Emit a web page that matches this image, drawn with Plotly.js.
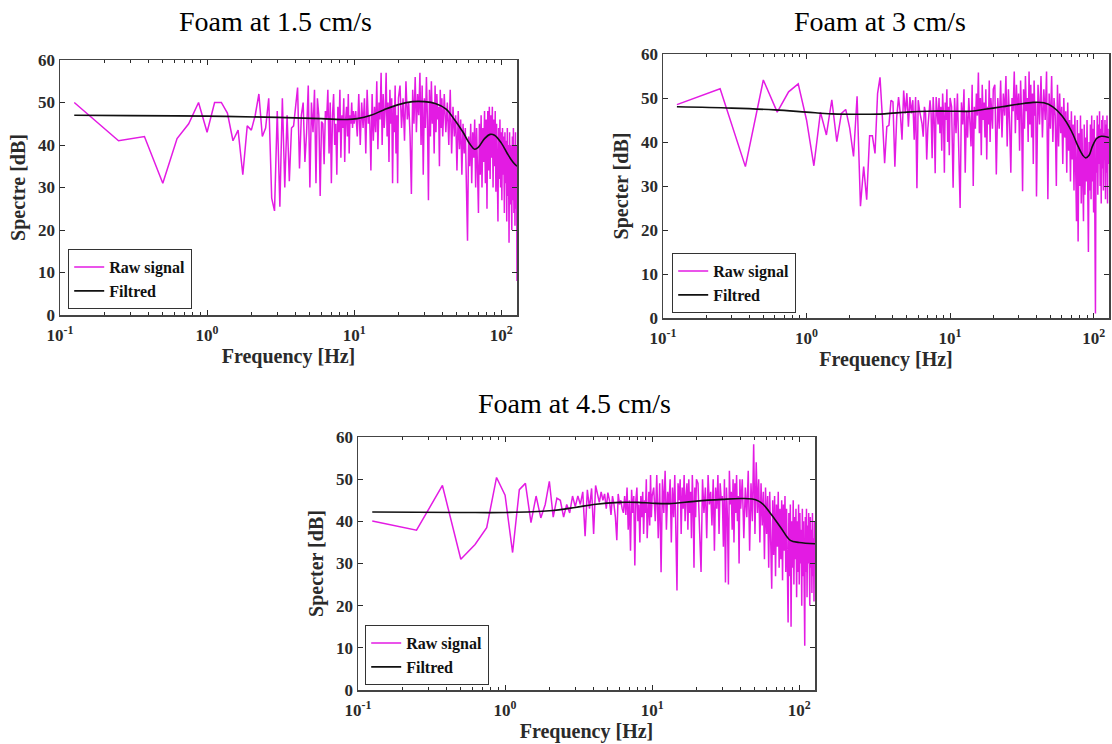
<!DOCTYPE html>
<html>
<head>
<meta charset="utf-8">
<script src="https://cdn.plot.ly/plotly-3.0.1.min.js"></script>
<style>
html,body{margin:0;padding:0;background:#ffffff;}
#chart{width:1112px;height:744px;}
</style>
</head>
<body>
<div id="chart"></div>
<script>
// ---------------- DATA ----------------
// FFT bin grid (Hz): segments (start, step)
const binStarts = [0.125, 10.25, 20.5, 41];
const binSteps  = [0.125, 0.25, 0.5, 1];

const panelTitles = ["Foam at 1.5 cm/s", "Foam at 3 cm/s", "Foam at 4.5 cm/s"];
const yTitles = ["Spectre [dB]", "Specter [dB]", "Specter [dB]"];
const xTitle = "Frequency [Hz]";
const seriesNames = ["Raw signal", "Filtred"];
const xTickVals = [0.1, 1, 10, 100];
const xTickText = ["10<sup>-1</sup>", "10<sup>0</sup>", "10<sup>1</sup>", "10<sup>2</sup>"];

// ---- Panel 1 : Foam at 1.5 cm/s ----
const raw1_a = [50,41,42,31,41.5,45,50,43,50,50, 47.5,41,43.5,33,44.5,43.5,47,52,42,44,
  51,27.5,24.5,48,25.5,51,30,47,31.5,44, 44.5,49.5,53.5,34.5,47,50,36,43,54,30,
  50,43,53,31,51,47,28,45.5,45,35.5, 48,46,53,38,50,31,47,52,40,45,
  33,49,43,53,37,47,44,51,36,46, 49,42,52,38,47,45,50,44,48,45];
const raw1_b = [48,42,52,40,50,44,51,38,53,45, 47,34,52,41,49,43,55,39,50,46,
  57,40,52,44,48,57,42,50,36,53, 45,51,31,49,43,54,38,47,31,51];
const raw1_c = [54,44,51,41,55,46,50,42,28.5,53, 45,56,43,52,47,57,40,54,33,51,
  44,56,46,27,53,42,55,45,50,38, 54,43,52,46,49,35,53,44,51,42];
const raw1_d = [52,43,50,40,53,38,49,42,47,34, 48,39,46,33,45,38,44,30,17.5,42,
  35,45,31,43,37,46,30,44,35,24, 45,33,47,30,44,36,48,31,46,25,
  48,34,49,32,47,37,49,30,46,35, 48,29,45,34,22,44,32,46,30,43,
  27,44,33,42,24,43,31,41,22,44, 28,40,17,43,26,40,30,20,42,27,
  44,24,40,21,43,25,40,8];
const filt1_f = [0.125,0.3,1,3,6,9,10.5,13,16,20,25,30,36,42,48,55,61,66,70,77,84,90,100,110,120,128];
const filt1_v = [47,46.9,46.8,46.5,46.2,46,46.2,47,48.3,49.5,50.2,50.2,49.7,48.5,46,43,40.3,39,39.5,41.5,42.5,42.3,40.5,38,36,35];

// ---- Panel 2 : Foam at 3 cm/s ----
const raw2_a = [48.5,52.1,34.4,54.1,46.8,51.4,53.2,45,34.6,46.8, 41.6,49.6,40.1,46.5,47.4,43.1,36.7,50.4,25.4,34.4,
  26.9,41.4,41.4,37.4,51,54.7,45.7,35.2,43.5,43.8, 49.5,49.1,34.4,45.7,50.2,46.5,40.5,51.7,46.5,51.1,
  43.5,50.2,46.5,49.5,40.5,50.2,29.5,49.5,47.2,45.7, 44.2,41.2,48,46.5,36,43.1,46.1,49.5,46.5,36.3,
  50.2,45,32.9,50.2,47,44,50,42,48,38, 51,46,33,49,45,52,40,48,37,50];
const raw2_b = [48,29.6,50,42,51,38,25,49,44,52, 33,47,41,50,45,39,53,30,48,43,
  51,46,55.8,42,50,37,53,45,49,41, 52,36,48,44,54,40,50,47,43,52];
const raw2_c = [53,32.6,50,43,54,41,51,46,55,39, 52,44,33,50,47,56,42,53,45,51,
  38,54,46,28.8,52,43,55,47,50,40, 56,44,53,41,51,35,54,46,49,27.6];
const raw2_d = [53,44,55,41,52,45,56,27,51,43, 55,40,50,46,30,53,39,51,42,48,
  35,50,41,47,33,49,38,45,31,47, 36,44,29,46,34,22,45,17.4,42,30,
  46,26,43,33,22,44,28,41,31,45, 24,15,40,29,44,27,46,31,43,24,
  45,30,1,41,33,46,28,44,35,47, 30,43,26,45,34,46,29,42,36,45,
  27,44,33,46,26,43,35,41];
const filt2_f = [0.125,0.3,0.6,1,1.5,2.5,3.5,5,7,10,14,18,23,30,38,45,52,60,70,78,84,88,93,98,105,113,128];
const filt2_v = [48,47.7,47.3,46.8,46.4,46.3,46.4,46.8,47,47,47,47.5,48,48.6,49,48.9,48,46,42.5,39,37,36.4,37,39,40.8,41.3,41];

// ---- Panel 3 : Foam at 4.5 cm/s ----
const raw3_a = [40.1,37.9,48.5,31,34.5,38.5,50.4,46.2,32.6,47.5, 49,39.7,46,40.8,44,49.5,41,45.5,45,41,
  44,42,46,43.5,46,44,47,36.5,47.5,43, 47.8,37,48.5,46,44.5,47,45,46.5,43,46.8,
  45,41.5,46,44,41,35.5,46.5,44,45,43, 42,46,41.5,48,38,45,33,47.5,42,46,
  29.5,45,48,40,44,35,46,41,47,37, 45,42,50,36,44,47,39,51,41,46];
const raw3_b = [48,40,51,36,49,27.9,50,42,52,38, 47,44,50,35,48,41,51,39,23.6,49,
  45,50,37,48,43,51,40,46,49,38, 50,42,47,36,51,44,29,48,41,50];
const raw3_c = [49,38,28,50,42,48,36,51,44,47, 39,50,33,48,43,51,37,49,45,46,
  34,50,25.5,48,41,25,52,44,47,38, 50,35,49,42,51,40,46,30,50,43];
const raw3_d = [50,36,48,41,52,33,49,40,58.3,37, 54,42,50,35,49,39,47,31,48,37,
  46,29,47,35,24,45,32,46,27,44, 34,47,29,43,31,45,26,44,33,46,
  28,43,30,16,42,27,44,15,40,29, 45,25,41,31,43,22,40,28,44,25,
  42,30,38,20,43,27,40,24,10.5,41, 28,43,22,39,30,42,25,20,41,29,
  38,23,42,27,36,21,40,30];
const filt3_f = [0.125,0.5,1,2,3,4,6,8,10,13,20,30,40,48,53,57,65,75,87,100,128];
const filt3_v = [42.2,42.1,42.1,42.5,43.3,44,44.5,44.5,44.3,44.2,44.8,45.2,45.4,45.3,44.8,44,41.5,38.5,35.5,35,34.7];

// ---------------- BUILD ----------------
function freqGrid(segs) {
  const out = [];
  segs.forEach((seg, i) => {
    for (let k = 0; k < seg.length; k++) {
      out.push(Math.round((binStarts[i] + k * binSteps[i]) * 1000) / 1000);
    }
  });
  return out;
}
function joinVals(segs) { return [].concat(...segs); }

const rawSets = [
  [raw1_a, raw1_b, raw1_c, raw1_d],
  [raw2_a, raw2_b, raw2_c, raw2_d],
  [raw3_a, raw3_b, raw3_c, raw3_d]
];
const filtSets = [[filt1_f, filt1_v], [filt2_f, filt2_v], [filt3_f, filt3_v]];

const SERIF = "Liberation Serif, Times New Roman, serif";
const INK = "#2a2a2a";
const RAW_COLOR = "#e31be3";
const FILT_COLOR = "#111111";

// panel frames in pixels [x0, x1, yTop, yBottom]
const W = 1112, H = 744;
const frames = [
  [60, 517, 60, 315],
  [663, 1109, 54, 318],
  [358, 815, 437, 690]
];
const titlePos = [[275, 22], [880, 22], [574, 403]];
const legendPos = [[68, 309], [672, 313], [365, 685]];

const traces = [];
const layout = {
  width: W, height: H,
  margin: {l: 0, r: 0, t: 0, b: 0},
  paper_bgcolor: "#ffffff",
  plot_bgcolor: "#ffffff",
  font: {family: SERIF, color: INK, size: 16},
  annotations: []
};

frames.forEach((fr, i) => {
  const n = i === 0 ? "" : String(i + 1);
  const xa = "x" + n, ya = "y" + n;
  const legName = "legend" + n;
  traces.push({
    type: "scatter", mode: "lines",
    x: freqGrid(rawSets[i]), y: joinVals(rawSets[i]),
    xaxis: xa, yaxis: ya, name: seriesNames[0], legend: legName,
    line: {color: RAW_COLOR, width: 1.5}
  });
  traces.push({
    type: "scatter", mode: "lines",
    x: filtSets[i][0], y: filtSets[i][1],
    xaxis: xa, yaxis: ya, name: seriesNames[1], legend: legName,
    line: {color: FILT_COLOR, width: 1.6, shape: "spline", smoothing: 1}
  });

  layout["xaxis" + n] = {
    type: "log",
    domain: [fr[0] / W, fr[1] / W],
    anchor: ya,
    range: [-1, Math.log10(128)],
    tickmode: "array", tickvals: xTickVals, ticktext: xTickText,
    ticks: "inside", ticklen: 5, tickwidth: 1, tickcolor: INK,
    ticklabelstandoff: 4,
    minor: {ticks: "inside", ticklen: 3, tickwidth: 1, tickcolor: INK, dtick: "D1", showgrid: false},
    showline: true, linecolor: "#444", linewidth: 1.5, mirror: "ticks",
    showgrid: false, zeroline: false,
    tickfont: {family: SERIF, size: 17, color: INK, weight: "bold"},
    title: {text: xTitle, standoff: 4, font: {family: SERIF, size: 20, color: INK, weight: "bold"}},
    automargin: false
  };
  layout["yaxis" + n] = {
    domain: [1 - fr[3] / H, 1 - fr[2] / H],
    anchor: xa,
    range: [0, 60], tick0: 0, dtick: 10,
    ticks: "inside", ticklen: 5, tickwidth: 1, tickcolor: INK,
    showline: true, linecolor: "#444", linewidth: 1.5, mirror: "ticks",
    showgrid: false, zeroline: false,
    tickfont: {family: SERIF, size: 17, color: INK, weight: "bold"},
    title: {text: yTitles[i], standoff: 7, font: {family: SERIF, size: 20, color: INK, weight: "bold"}},
    automargin: false
  };
  layout[legName] = {
    x: legendPos[i][0] / W, y: 1 - legendPos[i][1] / H,
    xanchor: "left", yanchor: "bottom",
    bgcolor: "#ffffff", bordercolor: "#333", borderwidth: 1.2,
    font: {family: SERIF, size: 16, color: "#111", weight: "bold"},
    tracegroupgap: 0, itemwidth: 30
  };
  layout.annotations.push({
    text: panelTitles[i], xref: "paper", yref: "paper",
    x: titlePos[i][0] / W, y: 1 - titlePos[i][1] / H,
    xanchor: "center", yanchor: "middle", showarrow: false,
    font: {family: SERIF, size: 28, color: "#000"}
  });
});

Plotly.newPlot("chart", traces, layout, {staticPlot: true, displayModeBar: false});
</script>
</body>
</html>
